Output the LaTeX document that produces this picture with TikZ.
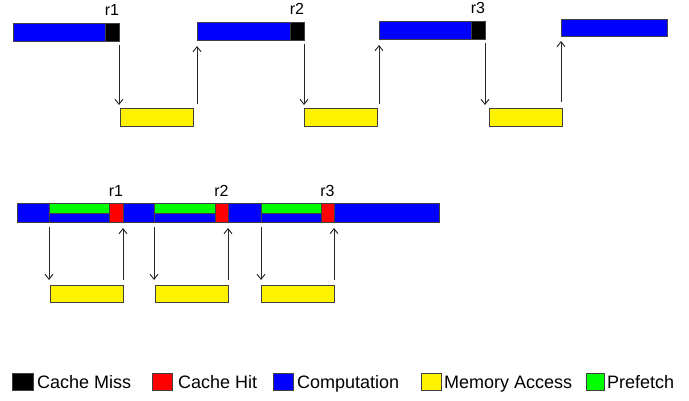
\documentclass[tikz,border=0pt]{standalone}
\usepackage{fontspec}
\setmainfont{Liberation Sans}
\usetikzlibrary{arrows.meta,positioning}

\begin{document}
\begin{tikzpicture}[x=1pt,y=-1pt,>={Straight Barb[length=5pt,width=8pt]},
seg/.style={draw=black!75,line width=0.8pt,inner sep=0,outer sep=0,anchor=north west,minimum height=18pt},
comp/.style={seg,fill=blue},miss/.style={seg,fill=black},hit/.style={seg,fill=red},
mem/.style={seg,fill=yellow,minimum width=73pt},pref/.style={seg,fill=green,minimum height=10pt},
flow/.style={->,draw=black!85,line width=0.9pt},
lab/.style={font=\fontsize{16}{18}\selectfont,inner sep=0},
sw/.style={draw=black!75,line width=0.8pt,inner sep=0,outer sep=0,minimum width=20pt,minimum height=17pt,anchor=north west},
legtext/.style={font=\fontsize{18}{20}\selectfont,inner sep=0,anchor=base west,yshift=2pt}]
\useasboundingbox (0,0) rectangle (689,401);
% without prefetch
\node[comp,minimum width=92pt] (c1) at (13,23) {};
\node[miss,minimum width=14pt,right=0pt of c1] (m1) {};
\node[comp,minimum width=93pt] (c2) at (197,22) {};
\node[miss,minimum width=14pt,right=0pt of c2] (m2) {};
\node[comp,minimum width=92pt] (c3) at (379,21) {};
\node[miss,minimum width=14pt,right=0pt of c3] (m3) {};
\node[comp,minimum width=106pt,minimum height=17pt] (c4) at (561,19) {};
\node[lab,above=7pt of m1] {r1};
\node[lab,above=7pt of m2] {r2};
\node[lab,above=7pt of m3] {r3};
\node[mem] (y1) at (120,108) {};
\node[mem] (y2) at (304,108) {};
\node[mem] (y3) at (489,108) {};
\draw[flow,shorten <=4pt,shorten >=3pt] (m1.south east) -- (m1.south east |- y1.north);
\draw[flow,shorten <=4pt,shorten >=6pt] (c2.south west |- y1.north) -- (c2.south west);
\draw[flow,shorten <=4pt,shorten >=3pt] (m2.south east) -- (m2.south east |- y2.north);
\draw[flow,shorten <=4pt,shorten >=6pt] (c3.south west |- y2.north) -- (c3.south west);
\draw[flow,shorten <=4pt,shorten >=3pt] (m3.south east) -- (m3.south east |- y3.north);
\draw[flow,shorten <=6pt,shorten >=5pt] (c4.south west |- y3.north) -- (c4.south west);
% with prefetch
\node[comp,minimum width=32pt,minimum height=19pt] (b1) at (17,203) {};
\node[comp,minimum width=60pt,minimum height=19pt,right=0pt of b1] (b2) {};
\node[hit,minimum width=14pt,minimum height=19pt,right=0pt of b2] (h1) {};
\node[comp,minimum width=31pt,minimum height=19pt,right=0pt of h1] (b3) {};
\node[comp,minimum width=61pt,minimum height=19pt,right=0pt of b3] (b4) {};
\node[hit,minimum width=13pt,minimum height=19pt,right=0pt of b4] (h2) {};
\node[comp,minimum width=33pt,minimum height=19pt,right=0pt of h2] (b5) {};
\node[comp,minimum width=60pt,minimum height=19pt,right=0pt of b5] (b6) {};
\node[hit,minimum width=13pt,minimum height=19pt,right=0pt of b6] (h3) {};
\node[comp,minimum width=105pt,minimum height=19pt,right=0pt of h3] (b7) {};
\node[pref,minimum width=60pt] (p1) at (b2.north west) {};
\node[pref,minimum width=61pt] (p2) at (b4.north west) {};
\node[pref,minimum width=60pt] (p3) at (b6.north west) {};
\node[lab,above=6pt of h1] {r1};
\node[lab,above=6pt of h2] {r2};
\node[lab,above=6pt of h3] {r3};
\node[mem,minimum height=17pt] (z1) at (50,285) {};
\node[mem,minimum height=17pt] (z2) at (155,285) {};
\node[mem,minimum height=17pt] (z3) at (261,285) {};
\draw[flow,shorten <=5pt,shorten >=5pt] (b2.south west) -- (b2.south west |- z1.north);
\draw[flow,shorten <=5pt,shorten >=6pt] (h1.south east |- z1.north) -- (h1.south east);
\draw[flow,shorten <=5pt,shorten >=5pt] (b4.south west) -- (b4.south west |- z2.north);
\draw[flow,shorten <=5pt,shorten >=6pt] (h2.south east |- z2.north) -- (h2.south east);
\draw[flow,shorten <=5pt,shorten >=5pt] (b6.south west) -- (b6.south west |- z3.north);
\draw[flow,shorten <=5pt,shorten >=6pt] (h3.south east |- z3.north) -- (h3.south east);
% legend
\node[sw,fill=black,minimum width=21pt] (l1) at (12,373) {};
\node[legtext] at ([xshift=4pt]l1.south east) {Cache Miss};
\node[sw,fill=red] (l2) at (152,373) {};
\node[legtext] at ([xshift=6pt]l2.south east) {Cache Hit};
\node[sw,fill=blue] (l3) at (273,373) {};
\node[legtext] at ([xshift=4pt]l3.south east) {Computation};
\node[sw,fill=yellow] (l4) at (421,373) {};
\node[legtext] at ([xshift=3pt]l4.south east) {Memory Access};
\node[sw,fill=green,minimum width=18pt] (l5) at (586,373) {};
\node[legtext] at ([xshift=3pt]l5.south east) {Prefetch};
\end{tikzpicture}
\end{document}
